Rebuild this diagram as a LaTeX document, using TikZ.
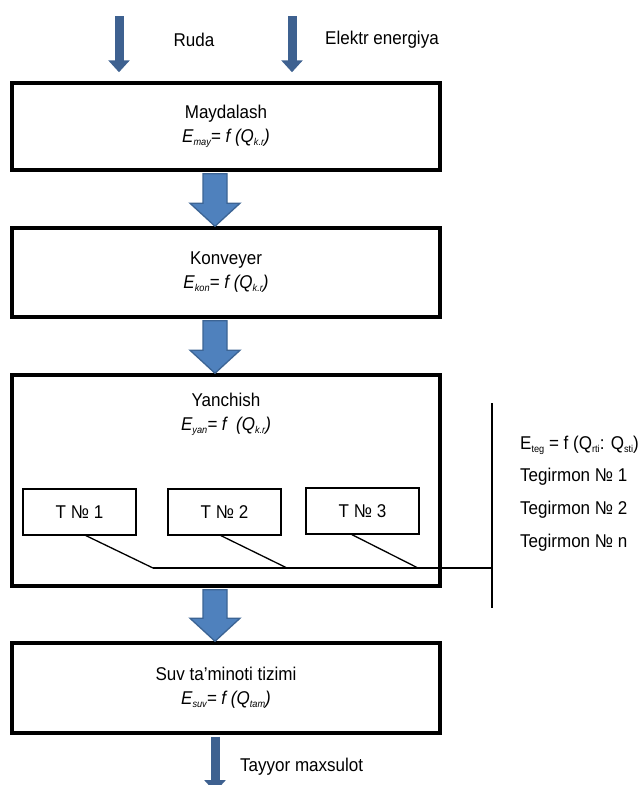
\documentclass[tikz,border=0pt]{standalone}
\usepackage{fontspec}
\setmainfont{Liberation Sans}[FakeStretch=0.92]
\usetikzlibrary{arrows.meta,positioning}
\definecolor{arrblue}{HTML}{4F81BD}
\definecolor{arrline}{HTML}{3C6494}
\definecolor{feedblue}{HTML}{3E6190}
\newcommand{\lowix}[1]{\raisebox{-.3ex}{\fontsize{10}{10}\selectfont#1}}

\begin{document}
\begin{tikzpicture}[x=1pt,y=-1pt,font=\fontsize{18.5}{24}\selectfont,
 blk/.style={draw,line width=3.5pt,minimum width=428pt,inner sep=0pt,align=center},
 tbox/.style={draw,line width=1.3pt,minimum width=113pt,minimum height=46pt,inner sep=0pt},
 txt/.style={inner sep=0pt,anchor=west},
 feed/.style={feedblue,line width=9pt,-{Triangle[width=21pt,length=12pt]}},
 bigarr/.style={fill=arrblue,draw=arrline,line width=1.3pt,line join=miter},
 wire/.style={line width=1.3pt}]
\useasboundingbox (0,0) rectangle (640,785);
% main blocks
\node[blk,minimum height=87pt] (may) at (226,126.5) {Maydalash\\\textit{E\lowix{may}= f (Q\lowix{k.r})}};
\node[blk,minimum height=89pt] (kon) at (226,272.5) {Konveyer\\\textit{E\lowix{kon}= f (Q\lowix{k.r})}};
\node[blk,minimum height=211pt] (yan) at (226,480.5) {};
\node[align=center,inner sep=0pt] (yanlab) at (226,414) {Yanchish\\\textit{E\lowix{yan}= f~ (Q\lowix{k.r})}};
\node[blk,minimum height=90pt] (suv) at (226,688) {Suv ta’minoti tizimi\\\textit{E\lowix{suv}= f (Q\lowix{tam})}};
% mills
\node[tbox] (t1) at (79.5,512) {T № 1};
\node[tbox] (t2) at (224.5,512) {T № 2};
\node[tbox] (t3) at (362.5,511) {T № 3};
\coordinate (j1) at (153,568);
\coordinate (j2) at (287,568);
\coordinate (j3) at (418,568);
\coordinate (bustop) at (492,403);
\coordinate (busbot) at (492,608);
\draw[wire] (bustop) -- (busbot);
\draw[wire] (j1) -- (j1 -| bustop);
\draw[wire] ([xshift=6.5pt]t1.south) -- (j1);
\draw[wire] ([xshift=-3.5pt]t2.south) -- (j2);
\draw[wire] ([xshift=-10.5pt]t3.south) -- (j3);
\node[txt] (eteg) at (520,445) {E\lowix{teg} = f (Q\lowix{rti}: Q\lowix{sti})};
\node[txt] (tg1) at (520,477) {Tegirmon № 1};
\node[txt] (tg2) at (520,510) {Tegirmon № 2};
\node[txt] (tgn) at (520,543) {Tegirmon № n};
% inputs and output
\coordinate (rudain) at (119,16);
\coordinate (elin) at (292,16);
\draw[feed] (rudain) -- ([yshift=9pt]rudain |- may.north);
\draw[feed] (elin) -- ([yshift=9pt]elin |- may.north);
\node (ruda) at (194,40) {Ruda};
\node (elek) at (382,40) {Elektr energiya};
\coordinate (out) at (215,792);
\draw[feed] ([xshift=-11pt,yshift=-1.75pt]suv.south) -- (out);
\node[txt] (tay) at (240,767) {Tayyor maxsulot};
% block arrows
\foreach \u/\v in {may/kon,kon/yan,yan/suv}
 \draw[bigarr] ([xshift=-23pt,yshift=-2pt]\u.south) -- ([xshift=-23pt,yshift=23pt]\v.north)
  -- ([xshift=-36pt,yshift=23pt]\v.north) -- ([xshift=-11pt]\v.north)
  -- ([xshift=14pt,yshift=23pt]\v.north) -- ([xshift=1pt,yshift=23pt]\v.north)
  -- ([xshift=1pt,yshift=-2pt]\u.south) -- cycle;
\end{tikzpicture}
\end{document}
